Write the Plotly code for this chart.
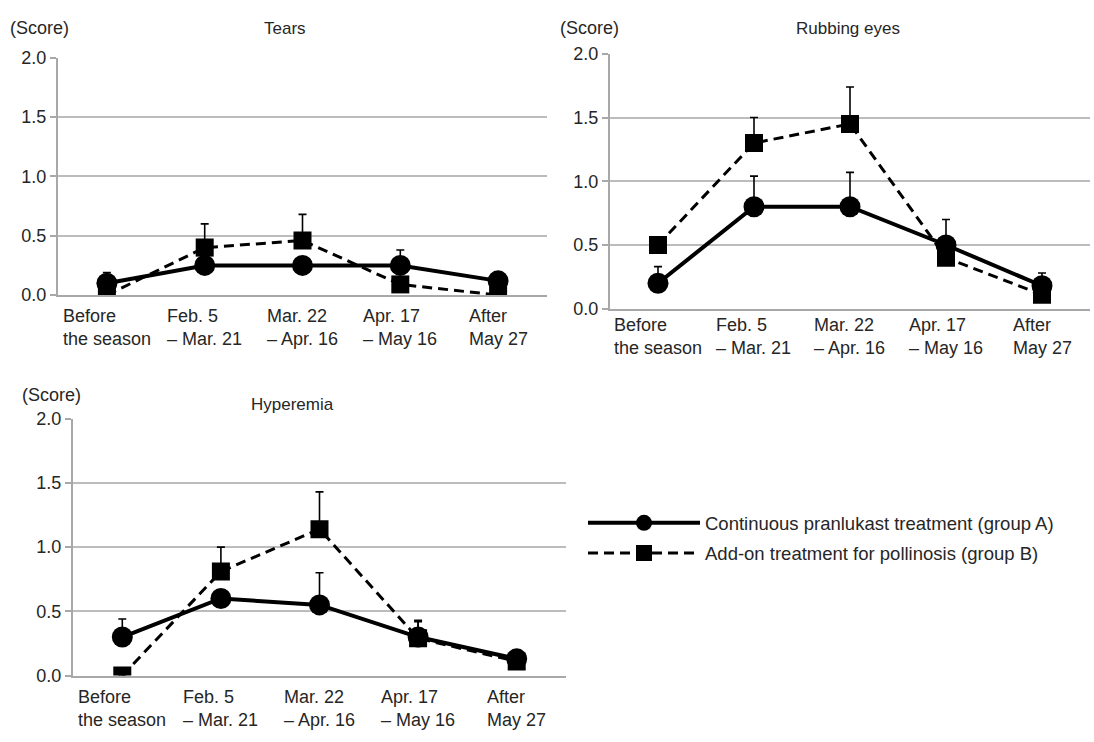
import plotly.graph_objects as go

W, H = 1094, 742

categories = ["Before<br>the season", "Feb. 5<br>– Mar. 21", "Mar. 22<br>– Apr. 16",
              "Apr. 17<br>– May 16", "After<br>May 27"]
x_idx = [0, 1, 2, 3, 4]

group_a_name = "Continuous pranlukast treatment (group A)"
group_b_name = "Add-on treatment for pollinosis (group B)"

tears_a = [0.10, 0.25, 0.25, 0.25, 0.12]
tears_a_err = [0.09, 0.0, 0.0, 0.13, 0.0]
tears_b = [0.0, 0.40, 0.46, 0.09, 0.0]
tears_b_err = [0.0, 0.20, 0.22, 0.0, 0.0]

rub_a = [0.20, 0.80, 0.80, 0.50, 0.18]
rub_a_err = [0.13, 0.24, 0.27, 0.20, 0.10]
rub_b = [0.50, 1.30, 1.45, 0.40, 0.11]
rub_b_err = [0.0, 0.20, 0.29, 0.0, 0.0]

hyp_a = [0.30, 0.60, 0.55, 0.30, 0.13]
hyp_a_err = [0.14, 0.0, 0.25, 0.12, 0.0]
hyp_b = [0.0, 0.81, 1.14, 0.29, 0.11]
hyp_b_err = [0.0, 0.19, 0.29, 0.14, 0.0]

y_ticks = [0.0, 0.5, 1.0, 1.5, 2.0]
y_ticktext = ["0.0", "0.5", "1.0", "1.5", "2.0"]

panels = [
    dict(title="Tears", a=tears_a, ae=tears_a_err, b=tears_b, be=tears_b_err,
         px=(58, 547), py=(49, 293), title_xy=(285, 19), score_xy=(8, 19), lab_shift=-9),
    dict(title="Rubbing eyes", a=rub_a, ae=rub_a_err, b=rub_b, be=rub_b_err,
         px=(610, 1090), py=(45, 307), title_xy=(848, 19), score_xy=(558, 19), lab_shift=-4),
    dict(title="Hyperemia", a=hyp_a, ae=hyp_a_err, b=hyp_b, be=hyp_b_err,
         px=(73, 566), py=(420, 684), title_xy=(292, 405), score_xy=(20, 396), lab_shift=-9),
]

TXT = "#262626"
FONT = "Liberation Sans, Arial, sans-serif"

fig = go.Figure()
annotations = []
for i, p in enumerate(panels):
    n = "" if i == 0 else str(i + 1)
    xa, ya = "x" + n, "y" + n
    fig.add_trace(go.Scatter(
        x=x_idx, y=p["a"], xaxis=xa, yaxis=ya, mode="lines+markers",
        name=group_a_name, showlegend=(i == 0), legendgroup="A",
        line=dict(color="black", width=4),
        marker=dict(symbol="circle", size=21, color="black"),
        error_y=dict(type="data", symmetric=False, array=p["ae"], arrayminus=[0] * 5,
                     color="black", thickness=1.6, width=4),
    ))
    fig.add_trace(go.Scatter(
        x=x_idx, y=p["b"], xaxis=xa, yaxis=ya, mode="lines+markers",
        name=group_b_name, showlegend=(i == 0), legendgroup="B",
        line=dict(color="black", width=3, dash="10px,6px"),
        marker=dict(symbol="square", size=18, color="black"),
        error_y=dict(type="data", symmetric=False, array=p["be"], arrayminus=[0] * 5,
                     color="black", thickness=1.6, width=4),
    ))
    x0, x1 = p["px"]
    y0, y1 = p["py"]
    fig.layout["xaxis" + n] = dict(
        domain=[x0 / W, x1 / W], range=[-0.5, 4.5], anchor=ya,
        showgrid=False, zeroline=False, showline=True, linecolor="#a8a8a8", linewidth=2,
        ticks="", showticklabels=False, fixedrange=True,
    )
    fig.layout["yaxis" + n] = dict(
        domain=[1 - y1 / H, 1 - y0 / H], range=[0, 2], anchor=xa,
        tickvals=y_ticks, ticktext=y_ticktext,
        showgrid=True, gridcolor="#bcbcbc", gridwidth=1.5, zeroline=False,
        showline=True, linecolor="#a8a8a8", linewidth=2,
        ticks="outside", ticklen=6, tickcolor="#a8a8a8", tickwidth=1.5,
        tickfont=dict(size=18, color=TXT, family=FONT), fixedrange=True,
    )
    for k, c in enumerate(categories):
        annotations.append(dict(
            x=x_idx[k], y=0, xref=xa, yref=ya + " domain", text=c, showarrow=False,
            xanchor="center", yanchor="top", align="left", yshift=p["lab_shift"],
            font=dict(size=18, color=TXT, family=FONT),
        ))
    annotations.append(dict(
        x=p["title_xy"][0] / W, y=1 - p["title_xy"][1] / H, xref="paper", yref="paper",
        text=p["title"], showarrow=False, xanchor="center", yanchor="middle",
        font=dict(size=17, color=TXT, family=FONT),
    ))
    annotations.append(dict(
        x=p["score_xy"][0] / W, y=1 - p["score_xy"][1] / H, xref="paper", yref="paper",
        text="(Score)", showarrow=False, xanchor="left", yanchor="middle",
        font=dict(size=18, color=TXT, family=FONT),
    ))

fig.update_layout(
    width=W, height=H, margin=dict(l=0, r=0, t=0, b=0),
    paper_bgcolor="white", plot_bgcolor="white",
    font=dict(family=FONT, color=TXT, size=18),
    annotations=annotations,
    showlegend=True,
    hovermode=False,
    legend=dict(x=583 / W, y=1 - 508 / H, xanchor="left", yanchor="top",
                bgcolor="rgba(0,0,0,0)", font=dict(size=18.5, color=TXT, family=FONT),
                itemwidth=112, tracegroupgap=3),
)

fig.write_html("out.html", config={"displayModeBar": False},
               post_script="document.body.style.margin='0px';")
